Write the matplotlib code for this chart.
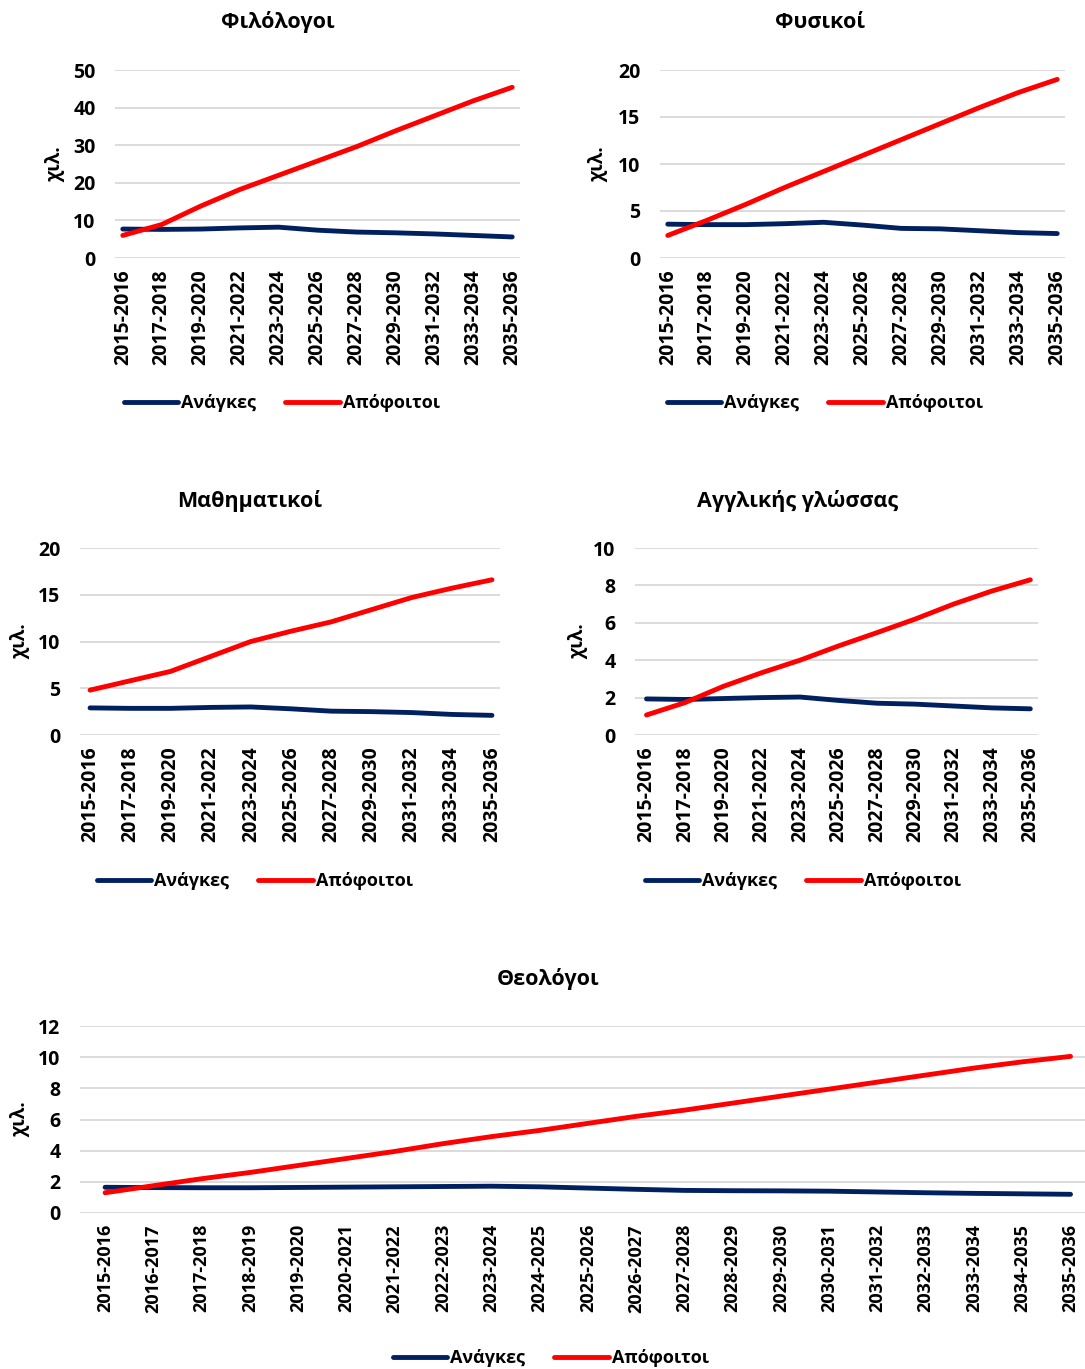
import matplotlib.pyplot as plt

plt.rcParams['font.family'] = ['Open Sans', 'DejaVu Sans']
plt.rcParams['font.weight'] = 'bold'

# data (thousands)
years_2 = ['2015-2016', '2017-2018', '2019-2020', '2021-2022', '2023-2024', '2025-2026',
           '2027-2028', '2029-2030', '2031-2032', '2033-2034', '2035-2036']
years_1 = ['2015-2016', '2016-2017', '2017-2018', '2018-2019', '2019-2020', '2020-2021',
           '2021-2022', '2022-2023', '2023-2024', '2024-2025', '2025-2026', '2026-2027',
           '2027-2028', '2028-2029', '2029-2030', '2030-2031', '2031-2032', '2032-2033',
           '2033-2034', '2034-2035', '2035-2036']

fil_needs = [7.7, 7.6, 7.7, 8.0, 8.2, 7.4, 6.9, 6.7, 6.4, 6.0, 5.6]
fil_grads = [6.0, 8.9, 13.8, 18.2, 22.0, 25.8, 29.6, 33.8, 37.8, 41.8, 45.4]

fys_needs = [3.6, 3.55, 3.55, 3.65, 3.8, 3.5, 3.15, 3.1, 2.9, 2.7, 2.6]
fys_grads = [2.4, 4.0, 5.7, 7.5, 9.2, 10.9, 12.6, 14.3, 16.0, 17.6, 19.0]

math_needs = [2.9, 2.85, 2.85, 2.95, 3.0, 2.8, 2.55, 2.5, 2.4, 2.2, 2.1]
math_grads = [4.8, 5.8, 6.8, 8.4, 10.0, 11.1, 12.1, 13.4, 14.7, 15.7, 16.6]

eng_needs = [1.93, 1.9, 1.95, 2.0, 2.03, 1.85, 1.7, 1.65, 1.55, 1.45, 1.4]
eng_grads = [1.07, 1.73, 2.6, 3.33, 4.0, 4.76, 5.47, 6.2, 7.0, 7.7, 8.3]

theo_needs = [1.65, 1.63, 1.62, 1.62, 1.64, 1.66, 1.68, 1.7, 1.72, 1.68, 1.6,
              1.52, 1.45, 1.43, 1.42, 1.4, 1.35, 1.3, 1.26, 1.23, 1.2]
theo_grads = [1.3, 1.75, 2.2, 2.6, 3.05, 3.5, 3.95, 4.45, 4.9, 5.3, 5.75,
              6.2, 6.6, 7.05, 7.5, 7.95, 8.4, 8.85, 9.3, 9.7, 10.05]

NAVY = '#002060'
RED = '#FF0000'
W, H = 1085, 1369

fig = plt.figure(figsize=(W / 100, H / 100), dpi=100)


def px_axes(x0, x1, ytop, ybot):
    return fig.add_axes([x0 / W, 1 - ybot / H, (x1 - x0) / W, (ybot - ytop) / H])


def panel(rect, title, labels, needs, grads, ymax, ystep, xlim, title_xy, ylab_x, leg_xy,
          tick_size=14):
    ax = px_axes(*rect)
    xs = range(len(labels))
    ax.plot(xs, needs, color=NAVY, lw=3.5, solid_capstyle='round', label='Ανάγκες', clip_on=False)
    ax.plot(xs, grads, color=RED, lw=3.5, solid_capstyle='round', label='Απόφοιτοι', clip_on=False)
    ax.set_xlim(*xlim)
    ax.set_ylim(0, ymax)
    ax.set_yticks(range(0, ymax + 1, ystep))
    ax.set_xticks(list(xs))
    ax.set_xticklabels(labels, rotation=90, fontsize=tick_size, fontweight='bold')
    ax.tick_params(axis='y', length=0, pad=14, labelsize=14)
    ax.tick_params(axis='x', length=0, pad=8)
    ax.grid(axis='y', color='#D9D9D9', lw=1.3)
    ax.set_axisbelow(True)
    for s in ax.spines.values():
        s.set_visible(False)
    fig.text(title_xy[0] / W, 1 - title_xy[1] / H, title, ha='center', va='center',
             fontsize=15.5, fontweight='bold')
    fig.text(ylab_x / W, 1 - (rect[2] + rect[3]) / 2 / H, 'χιλ.', rotation=90,
             ha='center', va='center', fontsize=13.5, fontweight='bold')
    ax.legend(loc='center', bbox_to_anchor=(leg_xy[0] / W, 1 - leg_xy[1] / H),
              bbox_transform=fig.transFigure, ncol=2, frameon=False, fontsize=13,
              handlelength=3.0, handletextpad=0.2, columnspacing=1.6)
    return ax


panel((115, 520, 70, 258), 'Φιλόλογοι', years_2, fil_needs, fil_grads, 50, 10,
      (-0.2, 10.2), (278, 22), 55, (282, 403))
panel((660, 1065, 70, 258), 'Φυσικοί', years_2, fys_needs, fys_grads, 20, 5,
      (-0.2, 10.2), (820, 22), 598, (825, 403))
panel((80, 500, 548, 735), 'Μαθηματικοί', years_2, math_needs, math_grads, 20, 5,
      (-0.25, 10.2), (250, 501), 20, (255, 881))
panel((635, 1038, 548, 735), 'Αγγλικής γλώσσας', years_2, eng_needs, eng_grads, 10, 2,
      (-0.3, 10.2), (798, 501), 578, (803, 881))
panel((80, 1085, 1026, 1213), 'Θεολόγοι', years_1, theo_needs, theo_grads, 12, 2,
      (-0.52, 20.3), (548, 979), 20, (551, 1358), tick_size=13)

fig.savefig('out.png', dpi=100, facecolor='white')
